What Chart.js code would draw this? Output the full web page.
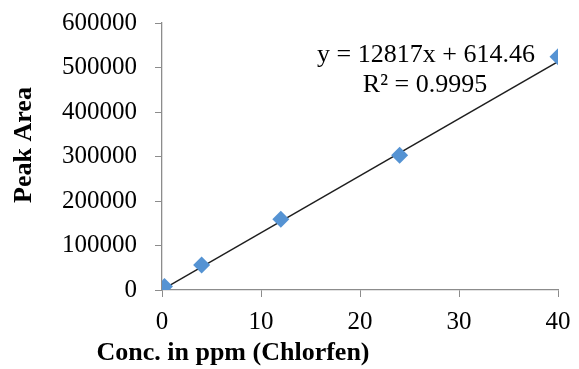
<!DOCTYPE html>
<html>
<head>
<meta charset="utf-8">
<script src="https://cdn.jsdelivr.net/npm/chart.js@4/dist/chart.umd.min.js"></script>
<style>
  html, body { margin: 0; padding: 0; background: #fff; overflow: hidden; }
  canvas { display: block; }
</style>
</head>
<body>
<canvas id="myChart" width="579" height="369"></canvas>
<script>
// data
const conc = [0.25, 4, 12, 24, 40];
const peakArea = [8000, 56000, 159000, 303000, 524000];
const xTicks = [0, 10, 20, 30, 40];
const yTicks = [0, 100000, 200000, 300000, 400000, 500000, 600000];
// trendline shown in the chart
const slope = 12817;
const intercept = 614.46;
const eqText = "y = 12817x + 614.46";
const r2Text = "R² = 0.9995";
const xTitle = "Conc. in ppm (Chlorfen)";
const yTitle = "Peak Area";

const points = conc.map((x, i) => ({ x: x, y: peakArea[i] }));
const xMin = Math.min(...conc), xMax = Math.max(...conc);
const trend = [
  { x: xMin, y: slope * xMin + intercept },
  { x: xMax, y: slope * xMax + intercept },
];

const serif = "'Liberation Serif', 'Times New Roman', serif";
const axisGrey = "#8c8c8c";

//~==== text drawn on top: titles + equation ====~//
const labelsPlugin = {
  id: "labels",
  afterDraw(chart) {
    const c = chart.ctx;
    c.save();
    c.fillStyle = "#000";
    c.textAlign = "center";
    c.textBaseline = "middle";
    c.font = "bold 26px " + serif;
    c.fillText(xTitle, 233, 353);
    c.save();
    c.translate(24, 145);
    c.rotate(-Math.PI / 2);
    c.fillText(yTitle, 0, 0);
    c.restore();
    c.font = "26px " + serif;
    c.fillText(eqText, 426, 55);
    c.fillText(r2Text, 425, 85);
    c.restore();
  },
};

const ctx = document.getElementById("myChart");
new Chart(ctx, {
  type: "scatter",
  data: {
    datasets: [
      {
        label: "trend",
        data: trend,
        showLine: true,
        borderColor: "#1e1e1e",
        borderWidth: 1.4,
        pointRadius: 0,
        order: 2,
      },
      {
        label: "Peak Area",
        data: points,
        pointStyle: "rectRot",
        pointRadius: 8.5,
        backgroundColor: "#5593d3",
        borderColor: "#5593d3",
        borderWidth: 0,
        order: 1,
      },
    ],
  },
  options: {
    responsive: false,
    animation: false,
    devicePixelRatio: 1,
    layout: { padding: { left: 0, top: 23, right: 21, bottom: 0 } },
    plugins: { legend: { display: false }, tooltip: { enabled: false } },
    scales: {
      x: {
        type: "linear",
        min: xTicks[0],
        max: xTicks[xTicks.length - 1],
        afterBuildTicks: (s) => { s.ticks = xTicks.map((v) => ({ value: v })); },
        afterFit: (s) => { s.height = 79; s.paddingLeft = 0; s.paddingRight = 0; },
        grid: { drawOnChartArea: false, tickLength: 7, color: axisGrey },
        border: { color: axisGrey, width: 1.3 },
        ticks: { color: "#000", padding: 10, maxRotation: 0, minRotation: 0, font: { family: serif, size: 25 } },
      },
      y: {
        type: "linear",
        min: yTicks[0],
        max: yTicks[yTicks.length - 1],
        afterBuildTicks: (s) => { s.ticks = yTicks.map((v) => ({ value: v })); },
        afterFit: (s) => { s.width = 162; s.paddingTop = 0; s.paddingBottom = 0; },
        grid: { drawOnChartArea: false, tickLength: 7, color: axisGrey },
        border: { color: axisGrey, width: 1.3 },
        ticks: { color: "#000", padding: 18, autoSkip: false, font: { family: serif, size: 25 }, callback: (v) => String(v) },
      },
    },
  },
  plugins: [labelsPlugin],
});
</script>
</body>
</html>
